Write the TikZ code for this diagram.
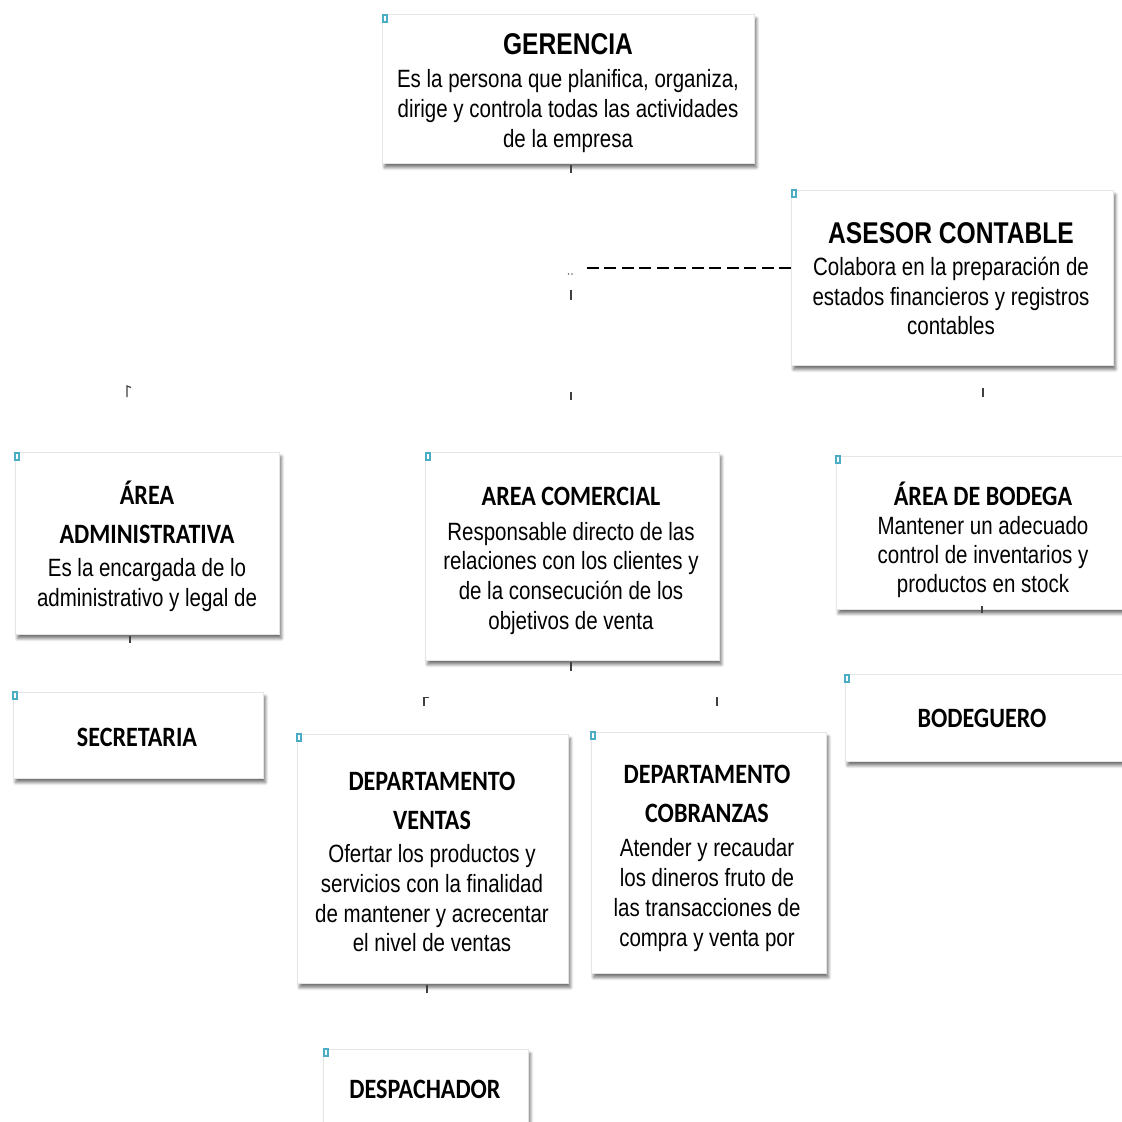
\documentclass[tikz,border=0pt]{standalone}
\usepackage{fontspec}
\setmainfont[FakeStretch=0.82]{Liberation Sans}
\newfontfamily\arialn[FakeStretch=0.82]{Liberation Sans}
\newfontfamily\calfont[FakeStretch=0.86]{Carlito}
\usetikzlibrary{shadows.blur}
\definecolor{markcol}{RGB}{75,172,198}
\tikzset{
  orgbox/.style={rectangle, draw=black!10, line width=0.6pt, fill=white, inner sep=0pt, outer sep=0pt,
    blur shadow={shadow xshift=2.5pt, shadow yshift=-4.5pt, shadow blur steps=6, shadow blur radius=3pt, shadow opacity=55}},
  titA/.style={font=\arialn\bfseries\fontsize{30}{34}\selectfont, text=black, inner sep=0pt},
  titB/.style={font=\calfont\bfseries\fontsize{28}{34}\selectfont, text=black, inner sep=0pt},
  bodytxt/.style={font=\arialn\fontsize{25}{30}\selectfont, text=black, inner sep=0pt},
  marker/.style={draw=markcol, line width=1.5pt},
  tick/.style={draw=black!75, line width=1.2pt},
  dashline/.style={draw=black, line width=2pt, dash pattern=on 12pt off 5.5pt}
}
\newcommand\tline[4]{\node[#3, anchor=base] (#1) at (#2) {#4};}
\newcommand\obox[5]{\node[orgbox, minimum width=#4pt, minimum height=#5pt] (#1) at (#2,#3) {};}
\begin{document}
\begin{tikzpicture}[x=1pt, y=-1pt]
\useasboundingbox (0,0) rectangle (1122,1122);
\clip (0,0) rectangle (1122,1122);

% boxes
\obox{ger}{568}{88.5}{372}{149}
\obox{ase}{952}{277.5}{322}{175}
\obox{adm}{147}{543}{264}{182}
\obox{com}{572}{556}{294}{208}
\obox{bod}{983}{532.5}{294}{153}
\obox{sec}{138}{735}{250}{86}
\obox{bgo}{985}{717.5}{280}{87}
\obox{ven}{432.5}{858.5}{271}{249}
\obox{cob}{708.5}{852.5}{235}{241}
\obox{des}{425.5}{1094.5}{205}{91}

% markers
\draw[marker] (383,15) rectangle (387,22);
\draw[marker] (792,190) rectangle (796,197);
\draw[marker] (15,453) rectangle (19,460);
\draw[marker] (426,453) rectangle (430,460);
\draw[marker] (836,456) rectangle (840,463);
\draw[marker] (13,692) rectangle (17,699);
\draw[marker] (845,675) rectangle (849,682);
\draw[marker] (297,734) rectangle (301,741);
\draw[marker] (591,732) rectangle (595,739);
\draw[marker] (324,1049) rectangle (328,1056);

% texts
\tline{g0}{568,54}{titA}{GERENCIA}
\tline{g1}{568,87}{bodytxt}{Es la persona que planifica, organiza,}
\tline{g2}{568,117}{bodytxt}{dirige y controla todas las actividades}
\tline{g3}{568,147}{bodytxt}{de la empresa}

\tline{a0}{951,243}{titA}{ASESOR CONTABLE}
\tline{a1}{951,275}{bodytxt}{Colabora en la preparación de}
\tline{a2}{951,305}{bodytxt}{estados financieros y registros}
\tline{a3}{951,334}{bodytxt}{contables}

\tline{d0}{147,504}{titB}{ÁREA}
\tline{d1}{147,543}{titB}{ADMINISTRATIVA}
\tline{d2}{147,576}{bodytxt}{Es la encargada de lo}
\tline{d3}{147,606}{bodytxt}{administrativo y legal de}

\tline{c0}{571,505}{titB}{AREA COMERCIAL}
\tline{c1}{571,540}{bodytxt}{Responsable directo de las}
\tline{c2}{571,569}{bodytxt}{relaciones con los clientes y}
\tline{c3}{571,599}{bodytxt}{de la consecución de los}
\tline{c4}{571,629}{bodytxt}{objetivos de venta}

\tline{b0}{983,505}{titB}{ÁREA DE BODEGA}
\tline{b1}{983,534}{bodytxt}{Mantener un adecuado}
\tline{b2}{983,563}{bodytxt}{control de inventarios y}
\tline{b3}{983,592}{bodytxt}{productos en stock}

\tline{s0}{137,746}{titB}{SECRETARIA}
\tline{q0}{982,727}{titB}{BODEGUERO}

\tline{v0}{432,790}{titB}{DEPARTAMENTO}
\tline{v1}{432,829}{titB}{VENTAS}
\tline{v2}{432,862}{bodytxt}{Ofertar los productos y}
\tline{v3}{432,892}{bodytxt}{servicios con la finalidad}
\tline{v4}{432,922}{bodytxt}{de mantener y acrecentar}
\tline{v5}{432,951}{bodytxt}{el nivel de ventas}

\tline{k0}{707,783}{titB}{DEPARTAMENTO}
\tline{k1}{707,822}{titB}{COBRANZAS}
\tline{k2}{707,856}{bodytxt}{Atender y recaudar}
\tline{k3}{707,886}{bodytxt}{los dineros fruto de}
\tline{k4}{707,916}{bodytxt}{las transacciones de}
\tline{k5}{707,946}{bodytxt}{compra y venta por}

\tline{p0}{425,1098}{titB}{DESPACHADOR}

% dashed connector from ASESOR CONTABLE
\coordinate (dj) at (583,268);
\draw[dashline] (ase.west |- dj) -- (dj);
\fill[black!60] (568.5,274) circle (0.9) (572,274) circle (0.9);

% stray tick marks
\draw[tick] (571,165) -- (571,173);
\draw[tick] (571,290) -- (571,300);
\draw[tick] (571,392) -- (571,400);
\draw[tick] (983,388) -- (983,397);
\draw[tick] (127,397) -- (127,386) -- (131,387.5);
\draw[tick] (130,636) -- (130,643);
\draw[tick] (571,662) -- (571,671);
\draw[tick] (982,606) -- (982,613);
\draw[tick] (424,706) -- (424,697.5) -- (428.5,697.5);
\draw[tick] (717,697) -- (717,706);
\draw[tick] (427,985) -- (427,993);
\end{tikzpicture}
\end{document}
